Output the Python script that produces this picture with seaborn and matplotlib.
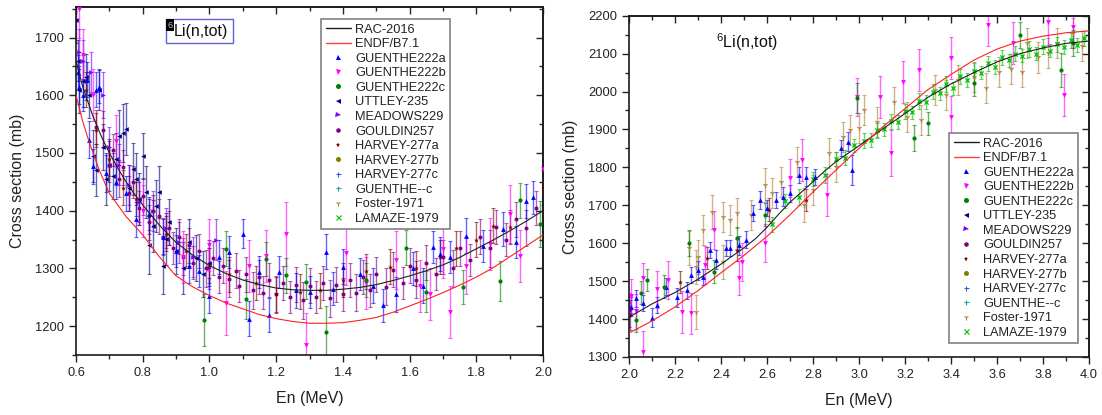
import matplotlib
matplotlib.use("Agg")
import matplotlib.pyplot as plt
import seaborn as sns
from matplotlib.lines import Line2D
from matplotlib.patches import Rectangle
from matplotlib.ticker import MultipleLocator, FormatStrFormatter

sns.set_style("white")
plt.rcParams['font.family'] = ['Liberation Sans', 'DejaVu Sans']
plt.rcParams['mathtext.fontset'] = 'custom'
plt.rcParams['mathtext.rm'] = 'Liberation Sans'
plt.rcParams['mathtext.it'] = 'Liberation Sans:italic'

# ---------------- evaluated curves ----------------
rac_l_x = [0.60, 0.62, 0.65, 0.675, 0.70, 0.725, 0.75, 0.775, 0.80, 0.85, 0.90, 0.95, 1.00, 1.05, 1.10, 1.15, 1.20, 1.25, 1.30, 1.35, 1.40, 1.45, 1.50, 1.55, 1.60, 1.65, 1.70, 1.75, 1.80, 1.85, 1.90, 1.95, 2.00]
rac_l_y = [1660, 1615, 1565, 1530, 1500, 1474, 1450, 1429, 1410, 1375, 1345, 1323, 1305, 1291, 1280, 1272, 1266, 1263, 1262, 1262, 1264, 1267, 1272, 1279, 1287, 1296, 1306, 1319, 1334, 1349, 1365, 1382, 1400]
endf_l_x = [0.60, 0.62, 0.64, 0.67, 0.70, 0.75, 0.80, 0.85, 0.90, 0.95, 1.00, 1.05, 1.10, 1.15, 1.20, 1.25, 1.30, 1.35, 1.40, 1.45, 1.50, 1.55, 1.60, 1.65, 1.70, 1.75, 1.80, 1.85, 1.90, 1.95, 2.00]
endf_l_y = [1600, 1555, 1518, 1470, 1430, 1390, 1358, 1320, 1287, 1268, 1253, 1240, 1230, 1220, 1213, 1208, 1205, 1205, 1206, 1210, 1215, 1224, 1235, 1246, 1258, 1271, 1285, 1301, 1320, 1339, 1358]

rac_r_x = [2.0, 2.1, 2.2, 2.3, 2.4, 2.5, 2.55, 2.6, 2.65, 2.7, 2.75, 2.8, 2.85, 2.9, 3.0, 3.1, 3.2, 3.3, 3.4, 3.5, 3.6, 3.7, 3.8, 3.9, 4.0]
rac_r_y = [1405, 1440, 1470, 1505, 1545, 1588, 1612, 1642, 1676, 1708, 1735, 1762, 1790, 1815, 1857, 1900, 1942, 1985, 2020, 2050, 2078, 2100, 2115, 2127, 2133]
endf_r_x = [2.0, 2.1, 2.2, 2.3, 2.4, 2.5, 2.6, 2.7, 2.8, 2.9, 3.0, 3.1, 3.2, 3.3, 3.4, 3.5, 3.6, 3.7, 3.8, 3.9, 4.0]
endf_r_y = [1363, 1395, 1432, 1475, 1522, 1568, 1618, 1675, 1735, 1793, 1850, 1905, 1955, 2005, 2045, 2083, 2112, 2133, 2146, 2155, 2160]

# ---------------- left panel data (0.6 - 2.0 MeV) ----------------
g222a_l_x = [0.605, 0.61, 0.62, 0.633, 0.64, 0.65, 0.66, 0.67, 0.69, 0.72, 0.75, 0.78, 0.82, 0.86, 0.90, 0.94, 0.97, 1.00, 1.03, 1.06, 1.10, 1.12, 1.15, 1.18, 1.21, 1.26, 1.30, 1.35, 1.37, 1.40, 1.45, 1.49, 1.52, 1.56, 1.61, 1.64, 1.67, 1.69, 1.72, 1.77, 1.82, 1.88, 1.92, 1.95, 1.97]
g222a_l_y = [1640, 1615, 1600, 1627, 1523, 1477, 1610, 1615, 1465, 1450, 1430, 1385, 1395, 1355, 1330, 1305, 1295, 1253, 1320, 1328, 1360, 1213, 1294, 1219, 1294, 1262, 1259, 1329, 1265, 1303, 1290, 1270, 1236, 1255, 1300, 1270, 1337, 1325, 1320, 1357, 1339, 1368, 1346, 1417, 1423]
g222a_l_e = [30, 30, 28, 30, 32, 30, 30, 28, 32, 30, 30, 30, 28, 30, 28, 30, 28, 30, 30, 28, 25, 30, 28, 30, 28, 30, 28, 30, 28, 30, 28, 30, 28, 30, 28, 30, 28, 30, 28, 30, 28, 30, 28, 30, 28]

g222b_l_x = [0.61, 0.62, 0.65, 0.72, 0.80, 0.92, 1.00, 1.05, 1.12, 1.17, 1.23, 1.29, 1.41, 1.47, 1.56, 1.63, 1.66, 1.70, 1.72, 1.77, 1.84, 1.90, 1.93, 2.00]
g222b_l_y = [1750, 1670, 1600, 1520, 1400, 1320, 1340, 1240, 1304, 1322, 1360, 1167, 1327, 1275, 1315, 1270, 1255, 1334, 1225, 1305, 1342, 1394, 1322, 1472]
g222b_l_e = [50, 45, 45, 45, 45, 45, 45, 55, 45, 45, 55, 55, 55, 45, 50, 45, 45, 50, 45, 50, 45, 50, 45, 50]

g222c_l_x = [0.985, 1.05, 1.11, 1.17, 1.23, 1.29, 1.35, 1.47, 1.59, 1.65, 1.76, 1.87, 1.93, 1.99]
g222c_l_y = [1210, 1334, 1247, 1316, 1288, 1277, 1190, 1280, 1336, 1260, 1268, 1278, 1418, 1377]
g222c_l_e = [45, 30, 35, 30, 30, 30, 45, 30, 30, 35, 30, 35, 30, 40]

utt_l_x = [0.60, 0.605, 0.61, 0.62, 0.63, 0.64, 0.65, 0.66, 0.67, 0.68, 0.69, 0.70, 0.71, 0.72, 0.73, 0.74, 0.75, 0.76, 0.77, 0.78, 0.79, 0.80, 0.81, 0.82, 0.83, 0.84, 0.85, 0.86, 0.87, 0.88, 0.90, 0.92, 0.94, 0.96, 0.98, 1.00]
utt_l_y = [1730, 1660, 1610, 1625, 1632, 1600, 1495, 1470, 1610, 1510, 1455, 1480, 1460, 1489, 1530, 1535, 1541, 1440, 1472, 1455, 1420, 1495, 1432, 1340, 1374, 1408, 1432, 1305, 1351, 1380, 1330, 1300, 1345, 1318, 1290, 1310]
utt_l_e = [40, 35, 40, 45, 40, 40, 45, 45, 35, 40, 45, 45, 40, 45, 45, 50, 45, 40, 45, 45, 45, 40, 45, 50, 45, 45, 45, 50, 45, 40, 40, 45, 40, 40, 40, 40]

mead_l_x = [0.61, 0.62, 0.645, 0.68, 0.70, 0.73, 0.76, 0.79, 0.83, 0.87, 0.91, 0.95, 1.00, 1.02]
mead_l_y = [1675, 1660, 1640, 1600, 1510, 1480, 1445, 1415, 1400, 1370, 1345, 1320, 1300, 1350]
mead_l_e = [40, 35, 35, 40, 35, 35, 35, 35, 35, 35, 35, 35, 35, 35]

gould_l_x = [0.66, 0.68, 0.70, 0.71, 0.73, 0.74, 0.76, 0.77, 0.79, 0.80, 0.82, 0.83, 0.85, 0.86, 0.88, 0.89, 0.91, 0.92, 0.94, 0.95, 0.97, 0.99, 1.01, 1.03, 1.04, 1.06, 1.08, 1.09, 1.11, 1.13, 1.15, 1.16, 1.18, 1.20, 1.22, 1.24, 1.26, 1.28, 1.30, 1.32, 1.34, 1.36, 1.38, 1.40, 1.42, 1.44, 1.46, 1.48, 1.50, 1.53, 1.55, 1.58, 1.60, 1.62, 1.65, 1.68, 1.70, 1.73, 1.75, 1.78, 1.81, 1.84, 1.86, 1.89, 1.92, 1.95, 1.98]
gould_l_y = [1545, 1540, 1480, 1505, 1455, 1475, 1430, 1450, 1405, 1425, 1380, 1400, 1390, 1355, 1370, 1335, 1355, 1320, 1340, 1310, 1330, 1300, 1318, 1285, 1305, 1282, 1296, 1270, 1290, 1262, 1285, 1258, 1280, 1255, 1275, 1250, 1272, 1245, 1270, 1250, 1275, 1248, 1272, 1255, 1280, 1258, 1285, 1262, 1290, 1268, 1298, 1275, 1305, 1280, 1310, 1290, 1320, 1300, 1335, 1315, 1355, 1335, 1372, 1350, 1385, 1370, 1405]
gould_l_e = [30, 32, 30, 28, 32, 30, 30, 28, 30, 32, 30, 28, 30, 32, 30, 28, 30, 32, 30, 28, 30, 32, 30, 28, 30, 32, 30, 28, 30, 32, 30, 28, 30, 32, 30, 28, 30, 32, 30, 28, 30, 32, 30, 28, 30, 32, 30, 28, 30, 32, 30, 28, 30, 32, 30, 28, 30, 32, 30, 28, 30, 32, 30, 28, 30, 32, 30]

harva_l_x = [0.63, 0.66, 0.70, 0.74, 0.78, 0.82, 0.87, 0.93, 1.00, 1.06, 1.14, 1.20, 1.27, 1.33, 1.40, 1.47, 1.54, 1.62, 1.69, 1.74, 1.80, 1.85, 1.90, 2.00]
harva_l_y = [1610, 1540, 1490, 1440, 1420, 1390, 1360, 1330, 1305, 1290, 1275, 1255, 1260, 1262, 1280, 1295, 1303, 1300, 1320, 1335, 1350, 1374, 1372, 1440]
harva_l_e = [30, 30, 30, 30, 30, 30, 30, 30, 30, 30, 30, 30, 30, 30, 30, 30, 30, 30, 30, 30, 30, 30, 30, 30]

# ---------------- right panel data (2.0 - 4.0 MeV) ----------------
g222a_r_x = [2.01, 2.03, 2.06, 2.10, 2.12, 2.16, 2.21, 2.25, 2.27, 2.30, 2.32, 2.35, 2.38, 2.42, 2.44, 2.48, 2.51, 2.54, 2.57, 2.60, 2.64, 2.67, 2.70, 2.74, 2.77, 2.81, 2.92, 2.95, 2.97]
g222a_r_y = [1432, 1455, 1442, 1403, 1437, 1485, 1458, 1476, 1516, 1529, 1511, 1582, 1556, 1587, 1587, 1595, 1609, 1680, 1714, 1693, 1714, 1722, 1732, 1780, 1775, 1775, 1851, 1867, 1793]
g222a_r_e = [25, 22, 22, 25, 22, 22, 25, 22, 22, 25, 22, 22, 25, 22, 22, 25, 22, 22, 25, 22, 22, 25, 22, 22, 25, 22, 22, 25, 40]

g222b_r_x = [2.01, 2.03, 2.06, 2.06, 2.12, 2.17, 2.23, 2.27, 2.33, 2.37, 2.48, 2.49, 2.59, 2.70, 2.75, 2.86, 2.99, 3.09, 3.14, 3.19, 3.26, 3.40, 3.40, 3.56, 3.67, 3.82, 3.89, 3.93]
g222b_r_y = [1460, 1420, 1313, 1508, 1478, 1503, 1418, 1415, 1543, 1635, 1508, 1551, 1600, 1772, 1819, 1727, 1986, 1986, 1838, 2025, 2057, 2088, 1933, 2175, 2128, 2184, 1991, 2170]
g222b_r_e = [45, 45, 55, 40, 50, 50, 55, 55, 50, 50, 45, 50, 50, 50, 55, 55, 50, 55, 60, 55, 55, 55, 55, 55, 55, 60, 55, 55]

g222c_r_x = [2.03, 2.05, 2.08, 2.15, 2.26, 2.37, 2.47, 2.59, 2.99, 3.24, 3.30, 3.50, 3.70, 3.88, 3.93]
g222c_r_y = [1397, 1470, 1503, 1485, 1600, 1525, 1613, 1675, 1983, 1877, 1916, 2022, 2149, 2057, 2128]
g222c_r_e = [30, 30, 30, 30, 35, 30, 30, 30, 40, 35, 30, 35, 35, 45, 35]

gould_r_x = [2.0, 2.005]
gould_r_y = [1424, 1410]
gould_r_e = [45, 40]

harva_r_x = [2.22, 2.34, 2.47, 2.61, 2.77]
harva_r_y = [1498, 1561, 1582, 1688, 1714]
harva_r_e = [30, 30, 30, 30, 30]

foster_r_x = [2.26, 2.29, 2.29, 2.30, 2.32, 2.36, 2.41, 2.41, 2.44, 2.47, 2.53, 2.59, 2.62, 2.66, 2.73, 2.76, 2.80, 2.87, 2.90, 2.93, 2.96, 3.00, 3.02, 3.08, 3.15, 3.21, 3.27, 3.33, 3.38, 3.43, 3.50, 3.55, 3.61, 3.66, 3.71, 3.73, 3.78, 3.82, 3.86, 3.93, 3.97]
foster_r_y = [1587, 1538, 1418, 1564, 1635, 1682, 1669, 1551, 1661, 1680, 1675, 1753, 1732, 1761, 1814, 1700, 1740, 1838, 1801, 1880, 1898, 1904, 1951, 1920, 1973, 1933, 1925, 2004, 1990, 2030, 2038, 2010, 2051, 2060, 2051, 2128, 2090, 2101, 2128, 2154, 2120]
foster_r_e = [45, 45, 45, 45, 40, 45, 40, 45, 40, 40, 40, 45, 40, 40, 40, 45, 40, 40, 40, 40, 40, 40, 40, 40, 40, 40, 40, 40, 40, 40, 40, 40, 40, 40, 40, 40, 40, 40, 40, 40, 40]

lamaze_r_x = [2.62, 2.68, 2.74, 2.80, 2.85, 2.90, 2.94, 2.98, 3.02, 3.05, 3.08, 3.11, 3.14, 3.17, 3.20, 3.23, 3.26, 3.29, 3.32, 3.35, 3.38, 3.41, 3.44, 3.47, 3.50, 3.53, 3.56, 3.59, 3.62, 3.65, 3.68, 3.71, 3.74, 3.77, 3.80, 3.83, 3.86, 3.89, 3.92, 3.95, 3.98]
lamaze_r_y = [1650, 1712, 1722, 1770, 1780, 1822, 1825, 1858, 1870, 1872, 1898, 1900, 1922, 1920, 1948, 1945, 1975, 1972, 2000, 1995, 2020, 2008, 2040, 2030, 2055, 2050, 2075, 2065, 2090, 2082, 2100, 2095, 2112, 2100, 2118, 2108, 2125, 2118, 2135, 2122, 2140]
lamaze_r_e = [20, 18, 20, 18, 20, 18, 20, 18, 20, 18, 20, 18, 20, 18, 20, 18, 20, 18, 20, 18, 20, 18, 20, 18, 20, 18, 20, 18, 20, 18, 20, 18, 20, 18, 20, 18, 20, 18, 20, 18, 20]

legend_names = ['GUENTHE222a', 'GUENTHE222b', 'GUENTHE222c', 'UTTLEY-235', 'MEADOWS229', 'GOULDIN257',
                'HARVEY-277a', 'HARVEY-277b', 'HARVEY-277c', 'GUENTHE--c', 'Foster-1971', 'LAMAZE-1979']

STYLES = {
    'GUENTHE222a': dict(color='#0000FF', marker='^', s=12),
    'GUENTHE222b': dict(color='#FF00FF', marker='v', s=12),
    'GUENTHE222c': dict(color='#008000', marker='o', s=9),
    'UTTLEY-235': dict(color='#000080', marker='<', s=11),
    'MEADOWS229': dict(color='#8000FF', marker='>', s=11),
    'GOULDIN257': dict(color='#800080', marker='h', s=10),
    'HARVEY-277a': dict(color='#800000', marker='*', s=14),
    'HARVEY-277b': dict(color='#808000', marker='o', s=9),
    'HARVEY-277c': dict(color='#3060D0', marker='+', s=10),
    'GUENTHE--c': dict(color='#20A0A0', marker='+', s=10),
    'Foster-1971': dict(color='#B08040', marker='1', s=14),
    'LAMAZE-1979': dict(color='#00C000', marker='x', s=9),
}
UNFILLED = {'+', 'x', '1'}

fig = plt.figure(figsize=(11.02, 4.15), dpi=100)
ax1 = fig.add_axes([0.06897, 0.1446, 0.4238, 0.8386])
ax2 = fig.add_axes([0.5708, 0.1398, 0.4174, 0.8224])


def draw_series(ax, name, x, y, e):
    st = STYLES[name]
    ax.errorbar(x, y, yerr=e, fmt='none', ecolor=st['color'], alpha=0.6,
                elinewidth=1.0, capsize=1.6, capthick=0.8, zorder=2)
    if st['marker'] in UNFILLED:
        sns.scatterplot(x=x, y=y, ax=ax, color=st['color'], marker=st['marker'],
                        s=st['s'], linewidth=0.9, zorder=3, legend=False)
    else:
        sns.scatterplot(x=x, y=y, ax=ax, color=st['color'], marker=st['marker'],
                        s=st['s'], linewidth=0, zorder=3, legend=False)


def draw_curves(ax, rx, ry, ex, ey):
    sns.lineplot(x=rx, y=ry, ax=ax, color='#202020', lw=0.8, estimator=None, zorder=4)
    sns.lineplot(x=ex, y=ey, ax=ax, color='#FF2020', lw=0.8, estimator=None, zorder=4)


def style_axes(ax, xlim, ylim, xmaj, xmin, ymaj, ymin):
    ax.set_xlim(*xlim)
    ax.set_ylim(*ylim)
    ax.xaxis.set_major_locator(MultipleLocator(xmaj))
    ax.xaxis.set_minor_locator(MultipleLocator(xmin))
    ax.yaxis.set_major_locator(MultipleLocator(ymaj))
    ax.yaxis.set_minor_locator(MultipleLocator(ymin))
    ax.xaxis.set_major_formatter(FormatStrFormatter('%.1f'))
    ax.yaxis.set_major_formatter(FormatStrFormatter('%d'))
    ax.tick_params(which='major', direction='out', length=5, width=1.0, labelsize=9.3,
                   colors='#222222', bottom=True, left=True, top=False, right=False)
    ax.tick_params(which='minor', direction='out', length=3, width=1.0,
                   bottom=True, left=True, top=False, right=False)
    for s in ax.spines.values():
        s.set_linewidth(1.2)
        s.set_color('#1a1a1a')
    sx = ax.secondary_xaxis('top')
    sx.xaxis.set_major_locator(MultipleLocator(xmaj))
    sx.xaxis.set_minor_locator(MultipleLocator(xmin))
    sx.tick_params(which='major', direction='in', length=5, width=1.0, labeltop=False)
    sx.tick_params(which='minor', direction='in', length=3, width=1.0)
    sx.spines['top'].set_linewidth(1.2)
    sy = ax.secondary_yaxis('right')
    sy.yaxis.set_major_locator(MultipleLocator(ymaj))
    sy.yaxis.set_minor_locator(MultipleLocator(ymin))
    sy.tick_params(which='major', direction='in', length=5, width=1.0, labelright=False)
    sy.tick_params(which='minor', direction='in', length=3, width=1.0)
    sy.spines['right'].set_linewidth(1.2)
    ax.set_xlabel('En (MeV)', fontsize=11.5, labelpad=9, color='#222222')
    ax.set_ylabel('Cross section (mb)', fontsize=11.5, labelpad=7, color='#222222')


# ---- left panel ----
draw_series(ax1, 'UTTLEY-235', utt_l_x, utt_l_y, utt_l_e)
draw_series(ax1, 'MEADOWS229', mead_l_x, mead_l_y, mead_l_e)
draw_series(ax1, 'GOULDIN257', gould_l_x, gould_l_y, gould_l_e)
draw_series(ax1, 'HARVEY-277a', harva_l_x, harva_l_y, harva_l_e)
draw_series(ax1, 'GUENTHE222a', g222a_l_x, g222a_l_y, g222a_l_e)
draw_series(ax1, 'GUENTHE222b', g222b_l_x, g222b_l_y, g222b_l_e)
draw_series(ax1, 'GUENTHE222c', g222c_l_x, g222c_l_y, g222c_l_e)
draw_curves(ax1, rac_l_x, rac_l_y, endf_l_x, endf_l_y)
style_axes(ax1, (0.6, 2.0), (1150, 1753), 0.2, 0.1, 100, 50)

# ---- right panel ----
draw_series(ax2, 'GOULDIN257', gould_r_x, gould_r_y, gould_r_e)
draw_series(ax2, 'Foster-1971', foster_r_x, foster_r_y, foster_r_e)
draw_series(ax2, 'LAMAZE-1979', lamaze_r_x, lamaze_r_y, lamaze_r_e)
draw_series(ax2, 'HARVEY-277a', harva_r_x, harva_r_y, harva_r_e)
draw_series(ax2, 'GUENTHE222a', g222a_r_x, g222a_r_y, g222a_r_e)
draw_series(ax2, 'GUENTHE222b', g222b_r_x, g222b_r_y, g222b_r_e)
draw_series(ax2, 'GUENTHE222c', g222c_r_x, g222c_r_y, g222c_r_e)
draw_curves(ax2, rac_r_x, rac_r_y, endf_r_x, endf_r_y)
style_axes(ax2, (2.0, 4.0), (1300, 2200), 0.2, 0.1, 100, 50)


def legend_handles():
    hs = [Line2D([], [], color='#202020', lw=1.0, label='RAC-2016'),
          Line2D([], [], color='#FF4040', lw=1.0, label='ENDF/B7.1')]
    for n in legend_names:
        st = STYLES[n]
        hs.append(Line2D([], [], color=st['color'], marker=st['marker'], ls='none',
                         markersize=3.6, markeredgewidth=0.8 if st['marker'] in UNFILLED else 0,
                         label=n))
    return hs


for ax, anchor in ((ax1, (0.525, 0.965)), (ax2, (0.696, 0.656))):
    leg = ax.legend(handles=legend_handles(), loc='upper left', bbox_to_anchor=anchor,
                    frameon=True, fancybox=False, edgecolor='#808080', framealpha=1,
                    fontsize=9.2, labelspacing=0.2, handlelength=2.0, handletextpad=0.3,
                    borderpad=0.35, borderaxespad=0)
    leg.get_frame().set_linewidth(1.2)
    for t in leg.get_texts():
        t.set_color('#222222')

# ---- reaction labels ----
# left: framed label with a highlighted superscript mass number
fig.patches.append(Rectangle((165.5 / 1102, 1 - 43 / 415), (233 - 165.5) / 1102, 24 / 415,
                             transform=fig.transFigure, facecolor='white', edgecolor='#6060D0',
                             linewidth=1.0, zorder=5))
fig.text(167.5 / 1102, 1 - 25 / 415, '6', fontsize=6.5, va='center', ha='left', color='#c8c8c8',
         zorder=6, bbox=dict(boxstyle='square,pad=0.12', facecolor='black', edgecolor='none'))
fig.text(173.5 / 1102, 1 - 31.5 / 415, 'Li(n,tot)', fontsize=11.5, va='center', ha='left',
         color='#111111', zorder=6)
fig.text(716 / 1102, 1 - 42 / 415, r'$^{6}$Li(n,tot)', fontsize=11.5, va='center', ha='left',
         color='#111111')

fig.savefig('out.png', dpi=100)
